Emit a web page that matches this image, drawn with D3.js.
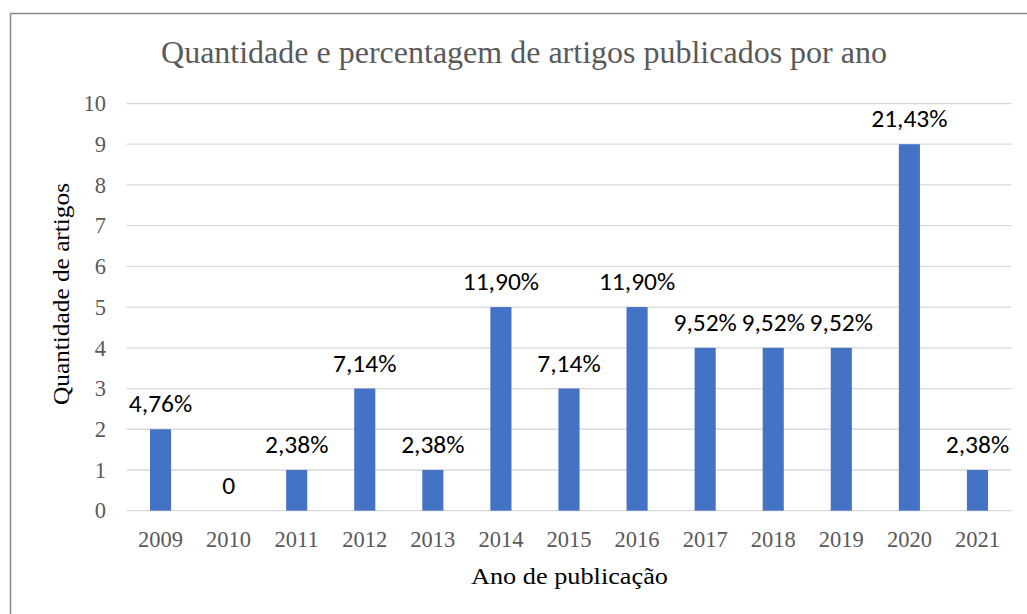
<!DOCTYPE html>
<html>
<head>
<meta charset="utf-8">
<script src="https://cdn.jsdelivr.net/npm/d3@7"></script>
<style>
  html, body { margin: 0; padding: 0; background: #fff; }
  svg { display: block; }
</style>
</head>
<body>
<svg id="chart" width="1027" height="614"></svg>
<script>
const years = ["2009","2010","2011","2012","2013","2014","2015","2016","2017","2018","2019","2020","2021"];
const counts = [2, 0, 1, 3, 1, 5, 3, 5, 4, 4, 4, 9, 1];
const percentLabels = ["4,76%","0","2,38%","7,14%","2,38%","11,90%","7,14%","11,90%","9,52%","9,52%","9,52%","21,43%","2,38%"];
const yTicks = [0,1,2,3,4,5,6,7,8,9,10];
const titleText = "Quantidade e percentagem de artigos publicados por ano";
const xTitle = "Ano de publicação";
const yTitle = "Quantidade de artigos";

const svg = d3.select("#chart");
const serif = "'Liberation Serif', 'Times New Roman', serif";
const sans = "Carlito, Calibri, 'Liberation Sans', Arial, sans-serif";

// chart border
svg.append("rect")
  .attr("x", 10.5).attr("y", 13.5)
  .attr("width", 1030).attr("height", 620)
  .attr("fill", "#fff").attr("stroke", "#898989").attr("stroke-width", 1.5);

const plot = { left: 126.5, right: 1011.5, top: 103.5, bottom: 510.7 };

const x = d3.scaleBand().domain(years)
  .range([plot.left, plot.right])
  .paddingInner(0.69).paddingOuter(0.345);
const y = d3.scaleLinear().domain([0, 10]).range([plot.bottom, plot.top]);

// gridlines
svg.append("g").selectAll("line").data(yTicks).join("line")
  .attr("x1", plot.left).attr("x2", plot.right)
  .attr("y1", d => y(d)).attr("y2", d => y(d))
  .attr("stroke", "#d9d9d9").attr("stroke-width", 1.3);

// y axis labels
const yAxis = d3.axisLeft(y).tickValues(yTicks).tickSize(0).tickPadding(0).tickFormat(d3.format("d"));
const yg = svg.append("g").attr("transform", `translate(106,0)`).call(yAxis);
yg.select(".domain").remove();
yg.selectAll("text").attr("font-family", serif).attr("font-size", 22.5).attr("fill", "#595959");

// x axis labels
const xAxis = d3.axisBottom(x).tickSize(0).tickPadding(0);
const xg = svg.append("g").attr("transform", `translate(0,${plot.bottom})`).call(xAxis);
xg.select(".domain").remove();
xg.selectAll("text").attr("dy", null).attr("y", 36)
  .attr("font-family", serif).attr("font-size", 22.5).attr("fill", "#595959");

// bars
svg.append("g").selectAll("rect").data(counts).join("rect")
  .attr("x", (d, i) => x(years[i]))
  .attr("width", x.bandwidth())
  .attr("y", d => y(d))
  .attr("height", d => y(0) - y(d))
  .attr("fill", "#4472c4");

// data labels
svg.append("g").selectAll("text").data(counts).join("text")
  .attr("x", (d, i) => x(years[i]) + x.bandwidth() / 2)
  .attr("y", d => y(d) - 17)
  .attr("text-anchor", "middle")
  .attr("font-family", sans).attr("font-size", 25.5)
  .attr("fill", "#000")
  .text((d, i) => percentLabels[i]);

// title
svg.append("text")
  .attr("x", 524).attr("y", 63)
  .attr("text-anchor", "middle")
  .attr("font-family", serif).attr("font-size", 32)
  .attr("fill", "#595959")
  .text(titleText);

// x title
svg.append("text")
  .attr("x", 569.5).attr("y", 583.5)
  .attr("text-anchor", "middle")
  .attr("font-family", serif).attr("font-size", 24)
  .attr("textLength", 197).attr("lengthAdjust", "spacingAndGlyphs")
  .attr("fill", "#000")
  .text(xTitle);

// y title
svg.append("text")
  .attr("transform", "translate(69,294) rotate(-90)")
  .attr("text-anchor", "middle")
  .attr("font-family", serif).attr("font-size", 24)
  .attr("textLength", 222).attr("lengthAdjust", "spacingAndGlyphs")
  .attr("fill", "#000")
  .text(yTitle);
</script>
</body>
</html>
